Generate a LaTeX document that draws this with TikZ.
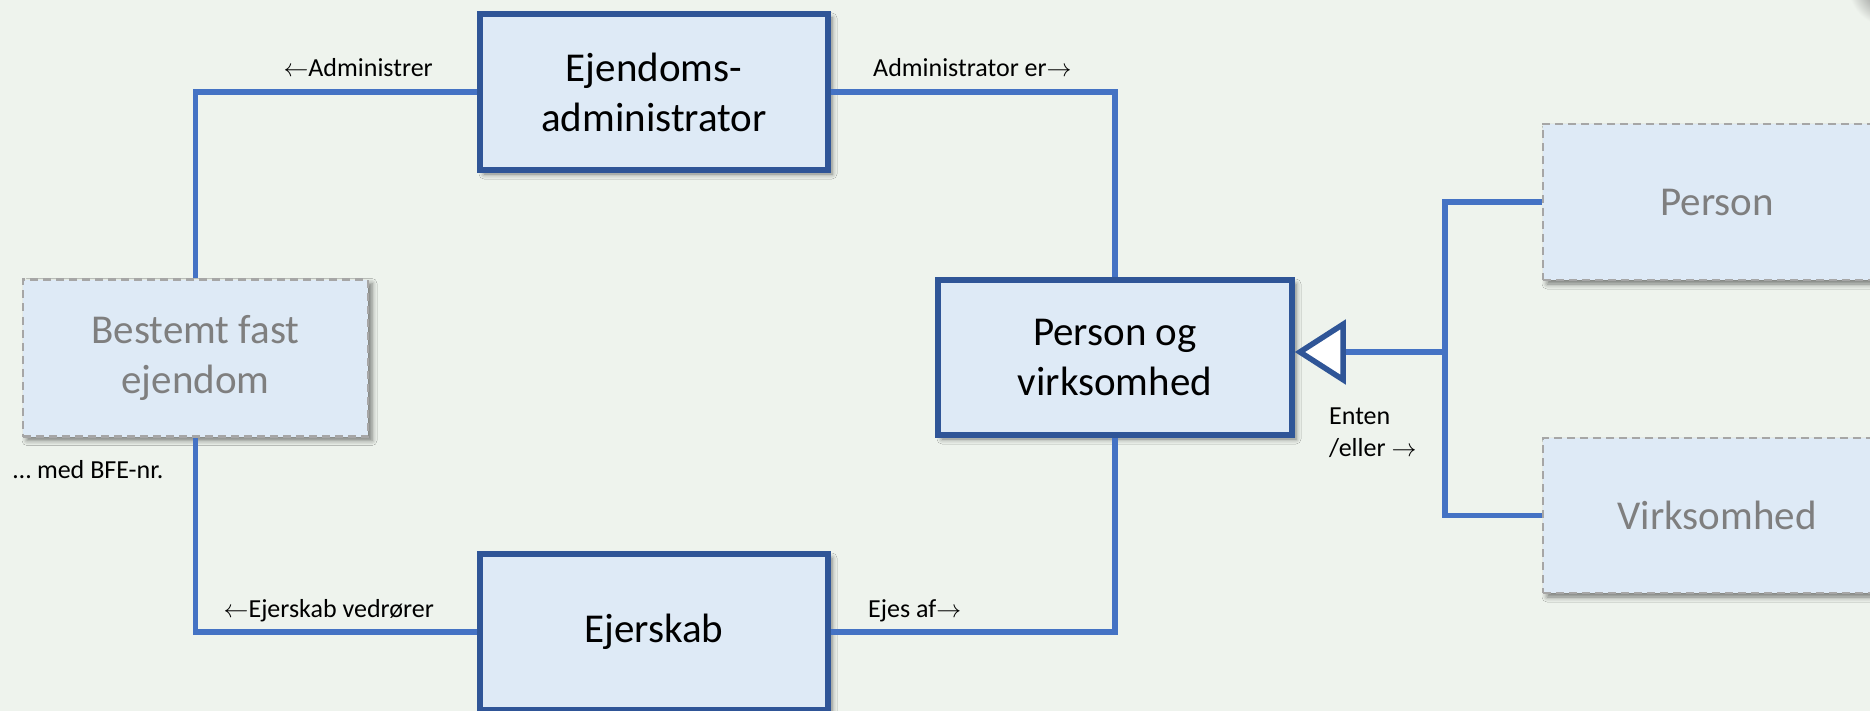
\documentclass[tikz,border=0pt]{standalone}
\usepackage{fontspec}
\setmainfont{Carlito}
\usetikzlibrary{arrows.meta,shadows.blur}
\definecolor{bg}{HTML}{EEF3ED}
\definecolor{boxfill}{HTML}{DEEAF6}
\definecolor{boxline}{HTML}{2F5597}
\definecolor{conncol}{HTML}{4472C4}
\definecolor{dashcol}{HTML}{A6A6A6}
\definecolor{greytext}{HTML}{7F7F7F}
\begin{document}
\begin{tikzpicture}[x=1pt,y=-1pt,
  boxshadow/.style={blur shadow={shadow xshift=4pt, shadow yshift=-4pt, shadow blur radius=5pt, shadow opacity=50}},
  mainbox/.style={draw=boxline, line width=5.5pt, fill=boxfill, minimum width=348pt, minimum height=156pt,
    inner sep=0pt, align=center, font=\fontsize{41}{50}\selectfont, boxshadow},
  ghostbox/.style={draw=dashcol, line width=2.5pt, dash pattern=on 8pt off 5pt, fill=boxfill,
    minimum width=345pt, minimum height=157pt, inner sep=0pt, align=center, text=greytext,
    font=\fontsize{41}{50}\selectfont, boxshadow},
  conn/.style={draw=conncol, line width=5.5pt},
  lbl/.style={font=\fontsize{26}{32}\selectfont, inner sep=0pt},
  gentip/.style={-{Triangle[fill=white, color=boxline, length=51pt, width=64pt, line width=5.5pt]}},
]
\useasboundingbox (0,0) rectangle (1870,711);
\fill[bg] (0,0) rectangle (1870,711);
\begin{scope}
  \clip (0,0) rectangle (1870,711);
  \shade[inner color=black!60, outer color=bg] (1888,-14) circle (40);
\end{scope}

% boxes
\node[mainbox] (EA) at (654,92) {Ejendoms-\\administrator};
\node[mainbox] (EJ) at (654,632) {Ejerskab};
\node[mainbox, minimum width=354pt, minimum height=155pt] (PV) at (1115,357.5) {Person og\\virksomhed};
\node[ghostbox] (BFE) at (195.5,358) {Bestemt fast\\ejendom};
\node[ghostbox, minimum width=348pt, minimum height=156pt] (P) at (1717,202) {Person};
\node[ghostbox, minimum width=348pt, minimum height=155pt] (V) at (1717,515.5) {Virksomhed};

\coordinate (J) at (1445,352);

% connectors
\draw[conn] (EA.west) -| (BFE.north);
\draw[conn] (EA.east) -| (PV.north);
\draw[conn] (BFE.south) |- (EJ.west);
\draw[conn] (PV.south) |- (EJ.east);
\draw[conn] (P.west) -| (J);
\draw[conn] (V.west) -| (J);
\draw[conn, gentip] (J) -- (PV.east |- J);

% labels
\node[lbl, anchor=base east] (lAdm) at (433,77) {$\leftarrow$Administrer};
\node[lbl, anchor=base west] (lAdmEr) at (873,77) {Administrator er$\rightarrow$};
\node[lbl, anchor=base east] (lEjV) at (434,617) {$\leftarrow$Ejerskab vedrører};
\node[lbl, anchor=base west] (lEjes) at (868,617) {Ejes af$\rightarrow$};
\node[lbl, anchor=base west] (lBFE) at (13,478) {… med BFE-nr.};
\node[lbl, anchor=base west] (lEnten) at (1329,424) {Enten};
\node[lbl, anchor=base west] (lEller) at (1329,456) {/eller $\rightarrow$};
\end{tikzpicture}
\end{document}
